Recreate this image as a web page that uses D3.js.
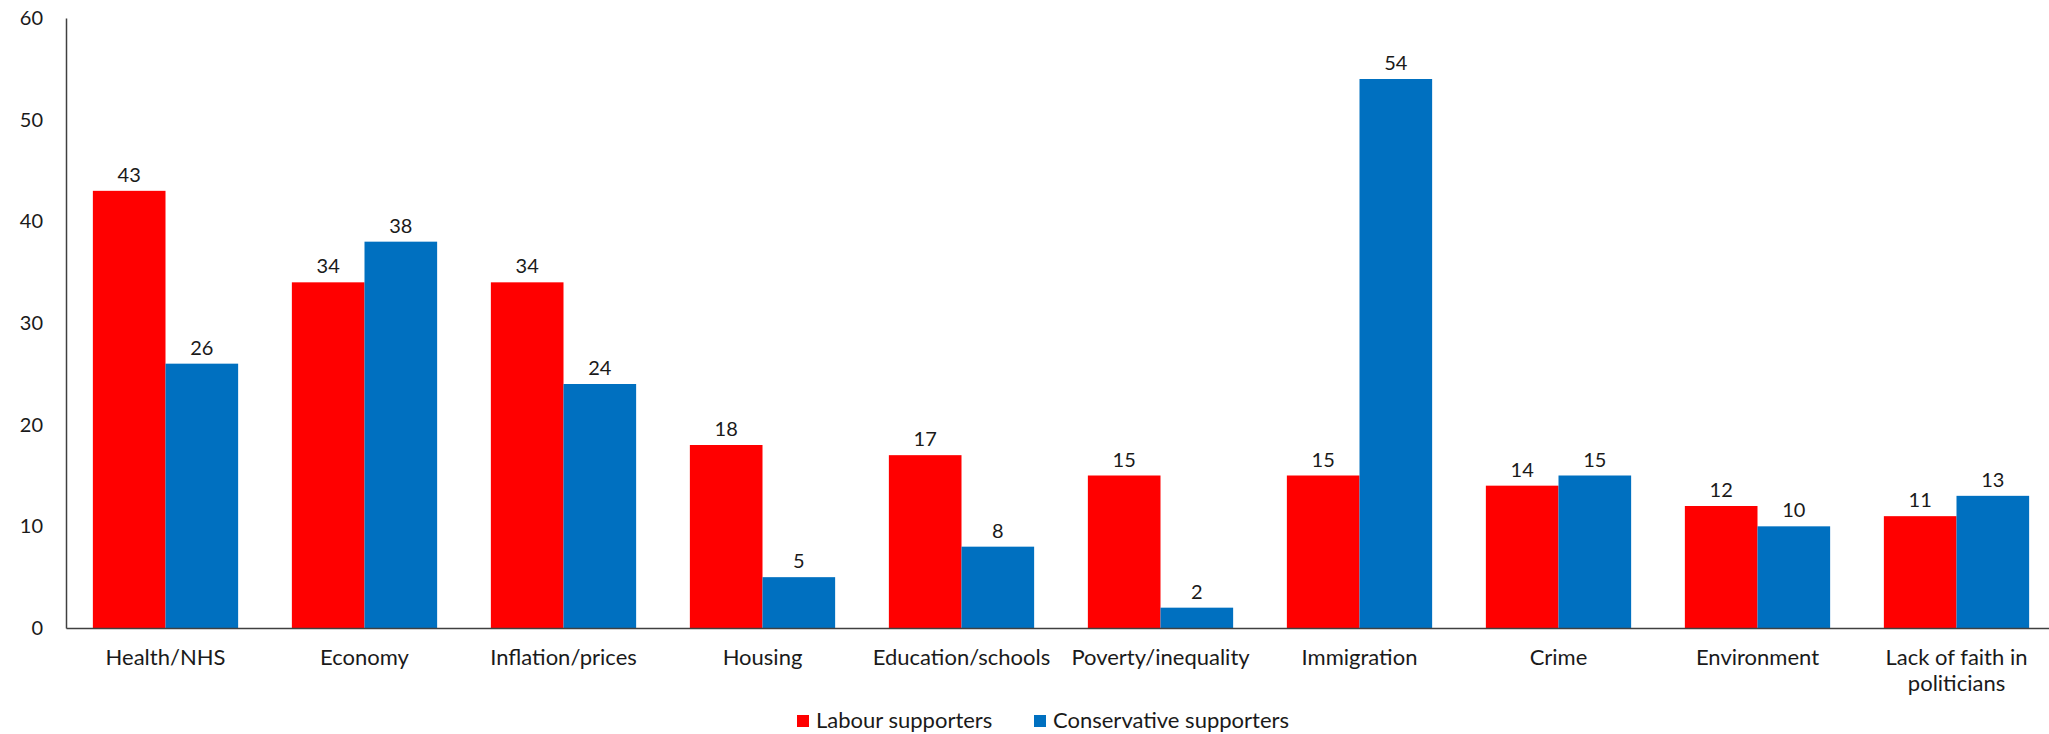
<!DOCTYPE html>
<html><head><meta charset="utf-8">
<script src="https://cdn.jsdelivr.net/npm/d3@7"></script>
<style>
html,body{margin:0;padding:0;background:#fff;}
svg{display:block;font-family:Lato,"Open Sans",sans-serif;}
</style></head>
<body>
<svg id="chart" width="2049" height="734"></svg>
<script>
const categories = ["Health/NHS","Economy","Inflation/prices","Housing","Education/schools","Poverty/inequality","Immigration","Crime","Environment","Lack of faith in politicians"];
const labour = [43,34,34,18,17,15,15,14,12,11];
const conservative = [26,38,24,5,8,2,54,15,10,13];
const seriesNames = ["Labour supporters","Conservative supporters"];
const seriesColors = ["#FF0000","#0070C0"];
const yTicks = [0,10,20,30,40,50,60];

(function(){
const svg = d3.select("#chart");
const mLeft = 66, mRight = 2056, mTop = 18, mBottom = 628;

const x = d3.scaleBand().domain(categories).range([mLeft, mRight]).paddingInner(0.27).paddingOuter(0.135);
const xs = d3.scaleBand().domain(seriesNames).range([0, x.bandwidth()]);
const y = d3.scaleLinear().domain([0,60]).range([mBottom, mTop]);

const data = categories.map((c,i)=>({cat:c, vals:[labour[i], conservative[i]]}));

const g = svg.append("g");
const groups = g.selectAll("g.grp").data(data).enter().append("g")
  .attr("transform", d=>`translate(${x(d.cat)},0)`);
groups.selectAll("rect").data(d=>d.vals.map((v,j)=>({v, s:seriesNames[j], c:seriesColors[j]})))
  .enter().append("rect")
  .attr("x", d=>xs(d.s)).attr("width", xs.bandwidth())
  .attr("y", d=>y(d.v)).attr("height", d=>y(0)-y(d.v))
  .attr("fill", d=>d.c);
groups.selectAll("text").data(d=>d.vals.map((v,j)=>({v, s:seriesNames[j]})))
  .enter().append("text")
  .attr("x", d=>xs(d.s)+xs.bandwidth()/2).attr("y", d=>y(d.v)-9)
  .attr("text-anchor","middle").attr("font-size",20).attr("fill","#1a1a1a")
  .text(d=>d.v);

const yAxis = svg.append("g").attr("transform",`translate(${mLeft},0)`)
  .call(d3.axisLeft(y).tickValues(yTicks).tickSize(0).tickPadding(23));
yAxis.select(".domain").attr("stroke","#404040").attr("stroke-width",1.5);
yAxis.selectAll("text").attr("font-size",20).attr("fill","#1a1a1a").attr("font-family","Lato,sans-serif");

const xAxis = svg.append("g").attr("transform",`translate(0,${mBottom})`)
  .call(d3.axisBottom(x).tickSize(0).tickPadding(0).tickFormat(""));
xAxis.select(".domain").attr("stroke","#404040").attr("stroke-width",1.5);
xAxis.selectAll(".tick").each(function(d){
  const t = d3.select(this).append("text").attr("text-anchor","middle")
    .attr("font-size",22).attr("fill","#1a1a1a").attr("font-family","Lato,sans-serif");
  const lines = d === "Lack of faith in politicians" ? ["Lack of faith in","politicians"] : [d];
  lines.forEach((l,k)=>t.append("tspan").attr("x",0).attr("y",37+k*26).text(l));
});

const legend = svg.append("g");
const legendX = [797, 1034];
seriesNames.forEach((s,i)=>{
  legend.append("rect").attr("x",legendX[i]).attr("y",715).attr("width",12).attr("height",12).attr("fill",seriesColors[i]);
  legend.append("text").attr("x",legendX[i]+19).attr("y",728).attr("font-size",22).attr("fill","#1a1a1a").text(s);
});
})();
</script>
</body></html>
